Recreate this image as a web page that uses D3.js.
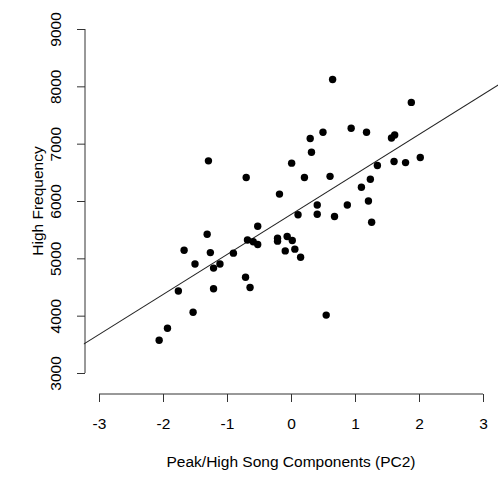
<!DOCTYPE html>
<html>
<head>
<meta charset="utf-8">
<script src="https://cdn.jsdelivr.net/npm/d3@7"></script>
<style>
  body { margin: 0; background: #fff; }
  svg text { font-family: "Liberation Sans", Arial, sans-serif; fill: #000; }
</style>
</head>
<body>
<div id="chart"></div>
<script>
// PC2 score per song
const pc2 = [
  -1.29, -0.70, -0.18, 0.01, 0.65, 1.88, 0.94, 1.18, 0.50, 0.30,
  0.32, 0.21, 0.61, 1.57, 1.62, 1.35, 1.61, 1.79, 2.02, 1.10,
  1.24, 1.21, 0.41, 0.88, 0.11, 0.41, 0.68, 1.26, -0.06, 0.02,
  -0.09, 0.06, 0.15, 0.55, -0.52, -1.31, -1.67, -1.26, -0.90, -0.68,
  -0.59, -0.52, -0.21, -0.21, -1.50, -1.21, -1.11, -1.76, -1.21, -0.71,
  -0.64, -1.53, -1.93, -2.06
];
const highFreq = [
  6700, 6410, 6120, 6660, 8120, 7720, 7270, 7200, 7200, 7090,
  6850, 6410, 6430, 7100, 7150, 6620, 6690, 6670, 6760, 6240,
  6380, 6000, 5930, 5930, 5760, 5770, 5730, 5630, 5380, 5310,
  5130, 5160, 5020, 4010, 5560, 5420, 5140, 5100, 5090, 5320,
  5290, 5240, 5350, 5300, 4900, 4830, 4900, 4430, 4470, 4670,
  4490, 4060, 3780, 3570
];
const xTicks = [-3, -2, -1, 0, 1, 2, 3];
const yTicks = [3000, 4000, 5000, 6000, 7000, 8000, 9000];
// fitted line (abline)
const fitIntercept = 5765;
const fitSlope = 698;

const W = 498, H = 477;
const svg = d3.select('#chart').append('svg')
  .attr('width', W).attr('height', H);

// x: -3 at 99px, 3 at 483px ; y: 9000 at 29px, 3000 at 373px
const x = d3.scaleLinear().domain([-3, 3]).range([99, 483]);
const y = d3.scaleLinear().domain([3000, 9000]).range([373, 29]);

// plot region (R extends limits by 4%)
const xr = [-3.24, 3.24], yr = [2760, 9240];
svg.append('clipPath').attr('id', 'plotclip')
  .append('rect')
  .attr('x', x(xr[0])).attr('y', y(yr[1]))
  .attr('width', x(xr[1]) - x(xr[0]))
  .attr('height', y(yr[0]) - y(yr[1]));

// X axis
const xAxis = svg.append('g')
  .attr('transform', 'translate(0,394)')
  .call(d3.axisBottom(x).tickValues(xTicks).tickSize(8).tickPadding(16).tickFormat(d3.format('d')));
xAxis.select('.domain').attr('stroke', '#333').attr('d', `M${x(-3)},0H${x(3)}`);
xAxis.selectAll('line').attr('stroke', '#333');
xAxis.selectAll('text').style('font-size', '15.5px').attr('fill', '#000')
  .text(d => d < 0 ? '-' + Math.abs(d) : d);

// Y axis
const yAxis = svg.append('g')
  .attr('transform', 'translate(85,0)')
  .call(d3.axisLeft(y).tickValues(yTicks).tickSize(8).tickFormat(d3.format('d')));
yAxis.select('.domain').attr('stroke', '#333').attr('d', `M0,${y(3000)}V${y(9000)}`);
yAxis.selectAll('line').attr('stroke', '#333');
yAxis.selectAll('text')
  .attr('x', null).attr('dy', null)
  .attr('text-anchor', 'middle')
  .style('font-size', '15.5px').attr('fill', '#000')
  .attr('transform', 'translate(-29,0) rotate(-90)')
  .attr('dy', '0.35em');

// Axis titles
svg.append('text')
  .attr('x', x(0)).attr('y', 467)
  .attr('text-anchor', 'middle')
  .style('font-size', '15.5px')
  .text('Peak/High Song Components (PC2)');

svg.append('text')
  .attr('transform', `translate(43,${y(6000)}) rotate(-90)`)
  .attr('text-anchor', 'middle')
  .style('font-size', '15.5px')
  .text('High Frequency');

// Regression line
svg.append('line')
  .attr('clip-path', 'url(#plotclip)')
  .attr('x1', x(xr[0])).attr('y1', y(fitIntercept + fitSlope * xr[0]))
  .attr('x2', x(xr[1])).attr('y2', y(fitIntercept + fitSlope * xr[1]))
  .attr('stroke', '#222').attr('stroke-width', 1.1);

// Points
svg.selectAll('.dot')
  .data(pc2)
  .enter().append('circle')
  .attr('class', 'dot')
  .attr('cx', d => x(d))
  .attr('cy', (d, i) => y(highFreq[i]))
  .attr('r', 3.7)
  .attr('fill', '#000');
</script>
</body>
</html>
